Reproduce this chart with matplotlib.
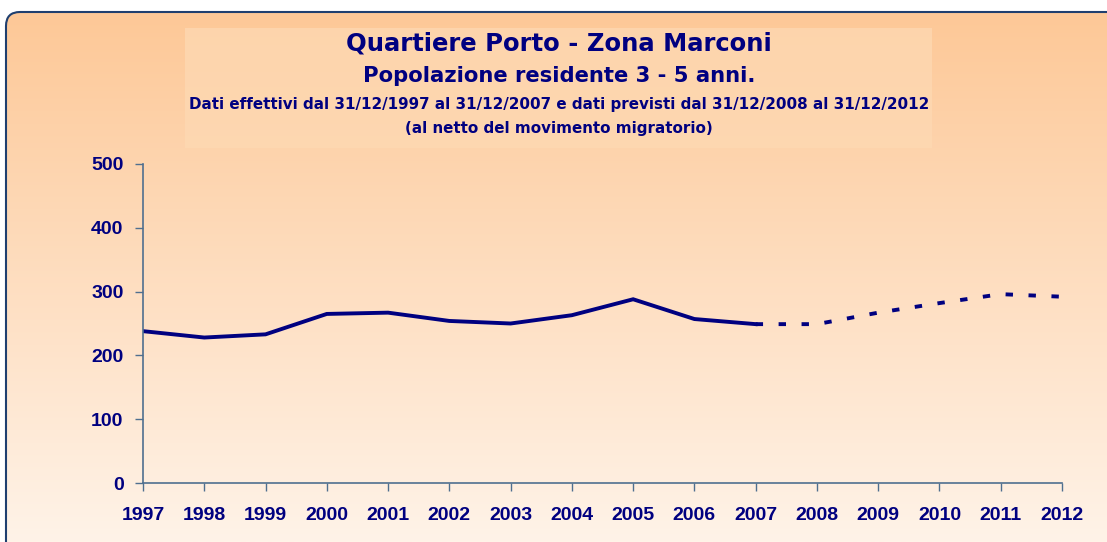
import numpy as np
import matplotlib.pyplot as plt
from matplotlib.patches import PathPatch, Rectangle
from matplotlib.path import Path

# Data
anni = [str(a) for a in range(1997, 2013)]
effettivi = [238, 228, 233, 265, 267, 254, 250, 263, 288, 257, 249]          # 1997-2007
previsti = [249, 249, 267, 282, 296, 292]                                      # 2007-2012
yticks = [0, 100, 200, 300, 400, 500]

navy = '#000080'
axis_col = '#4f6f8f'
plt.rcParams['font.family'] = ['Liberation Sans', 'DejaVu Sans']

W, H = 1107, 542
fig = plt.figure(figsize=(W / 100, H / 100), dpi=100)

# background in pixel coordinates
bg = fig.add_axes([0, 0, 1, 1], zorder=-10)
bg.set_xlim(0, W)
bg.set_ylim(H, 0)
bg.axis('off')
grad = np.linspace(0, 1, 256).reshape(-1, 1)
top = np.array([253, 200, 151]) / 255
bot = np.array([255, 243, 232]) / 255
img = top + (bot - top) * grad[:, :, None]

# frame: only the top-left corner of a rounded box is visible
x0, y0, r = 6, 12, 14
verts = [(W + 20, H + 20), (W + 20, y0), (x0 + r, y0), (x0, y0), (x0, y0 + r),
         (x0, H + 20), (W + 20, H + 20)]
codes = [Path.MOVETO, Path.LINETO, Path.LINETO, Path.CURVE3, Path.CURVE3,
         Path.LINETO, Path.CLOSEPOLY]
clip = PathPatch(Path(verts, codes), fc='none', ec='none')
bg.add_patch(clip)
im = bg.imshow(img, aspect='auto', extent=[x0, W + 20, H, y0], zorder=0)
im.set_clip_path(clip)
edge = Path(verts[1:6], [Path.MOVETO] + codes[2:6])
bg.add_patch(PathPatch(edge, fc='none', ec='#1f3f6f', lw=1.5, zorder=3))
bg.set_xlim(0, W)
bg.set_ylim(H, 0)
# title box
bg.add_patch(Rectangle((185, 28), 932 - 185, 148 - 28, color='#fdd9b3', alpha=0.75, lw=0, zorder=1))

tfont = ['DejaVu Sans']
fig.text(0.505, 1 - 44 / H, 'Quartiere Porto - Zona Marconi', ha='center', va='center',
         fontsize=17.5, fontweight='bold', color=navy, family=tfont)
fig.text(0.505, 1 - 76 / H, 'Popolazione residente 3 - 5 anni.', ha='center', va='center',
         fontsize=15.2, fontweight='bold', color=navy, family=tfont)
fig.text(0.505, 1 - 104 / H,
         'Dati effettivi dal 31/12/1997 al 31/12/2007 e dati previsti dal 31/12/2008 al 31/12/2012',
         ha='center', va='center', fontsize=10.9, fontweight='bold', color=navy, family=tfont)
fig.text(0.505, 1 - 129 / H, '(al netto del movimento migratorio)', ha='center', va='center',
         fontsize=10.9, fontweight='bold', color=navy, family=tfont)

ax = fig.add_axes([143 / W, 1 - 483 / H, (1062 - 143) / W, (483 - 164) / H])
ax.patch.set_alpha(0)
x = np.arange(len(anni))
ax.plot(x[:len(effettivi)], effettivi, color=navy, lw=2.8, solid_joinstyle='miter')
ax.plot(x[len(effettivi) - 1:], previsti, color=navy, lw=2.8, dashes=(1.9, 4),
        dash_capstyle='butt')

ax.set_xlim(0, len(anni) - 1)
ax.set_ylim(0, 500)
ax.set_xticks(x)
ax.set_xticklabels(anni)
ax.set_yticks(yticks)
for s in ['top', 'right']:
    ax.spines[s].set_visible(False)
for s in ['left', 'bottom']:
    ax.spines[s].set_color(axis_col)
    ax.spines[s].set_linewidth(1.2)
ax.tick_params(axis='x', direction='out', length=6, width=1, colors=axis_col, pad=11)
ax.tick_params(axis='y', direction='out', length=6, width=1, colors=axis_col, pad=8)
for lab in ax.get_xticklabels() + ax.get_yticklabels():
    lab.set_color(navy)
    lab.set_fontweight('bold')
    lab.set_fontsize(14)

fig.savefig('out.png', dpi=100)
